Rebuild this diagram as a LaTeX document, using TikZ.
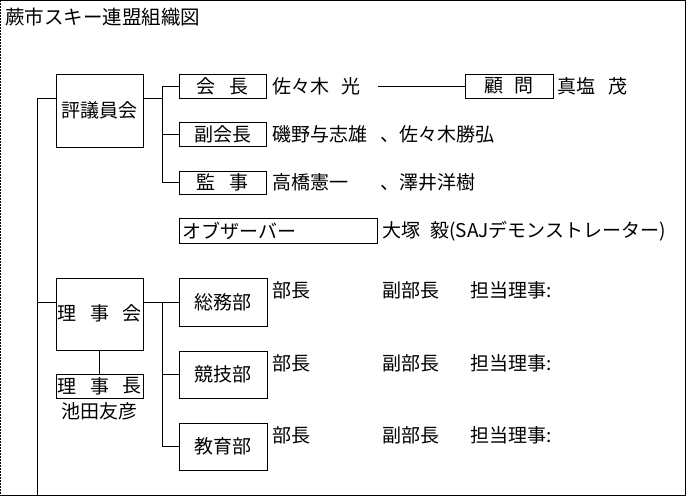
\documentclass[tikz,border=0pt]{standalone}
\usepackage{fontspec}
\setmainfont{Noto Sans CJK JP}
\begin{document}
\begin{tikzpicture}[x=1pt,y=-1pt,
  line width=0.9pt,
  txt/.style={inner sep=0pt,anchor=west,font=\fontsize{19}{21}\selectfont},
  ctr/.style={inner sep=0pt,font=\fontsize{19}{21}\selectfont},
  ln/.style={line width=0.9pt}]
\useasboundingbox (0,0) rectangle (686,496);
% frame
\draw[line width=1pt] (0,0.5) -- (685,0.5) -- (685,495) -- (0,495);
\draw[line width=1.2pt,dash pattern=on 1.5pt off 1.5pt] (0.6,0) -- (0.6,495);
% title
\node[txt,font=\fontsize{19.5}{21}\selectfont] (title) at (5,17) {蕨市スキー連盟組織図};
% main spine
\coordinate (top) at (37,98);
\coordinate (bot) at (37,495);
% boxes
\node[draw,minimum width=87pt,minimum height=73pt,inner sep=0pt] (hyo) at (99.5,110.5) {};
\node[ctr] at (hyo.center) {評議員会};
\node[draw,minimum width=87pt,minimum height=24pt,inner sep=0pt] (kaicho) at (222.5,86) {};
\node[ctr] at (kaicho.center) {会\hspace{14pt}長};
\node[draw,minimum width=87pt,minimum height=24pt,inner sep=0pt] (fuku) at (222.5,134.5) {};
\node[ctr] at (fuku.center) {副会長};
\node[draw,minimum width=87pt,minimum height=23pt,inner sep=0pt] (kanji) at (222.5,182.5) {};
\node[ctr] at (kanji.center) {監\hspace{14pt}事};
\node[draw,minimum width=88pt,minimum height=24pt,inner sep=0pt] (komon) at (509,86) {};
\node[ctr] at (komon.center) {顧\hspace{11pt}問};
\node[draw,minimum width=198pt,minimum height=25pt,inner sep=0pt] (obs) at (278,230.5) {};
\node[txt] at (182,230.5) {オブザーバー};
\node[draw,minimum width=87pt,minimum height=72pt,inner sep=0pt] (riji) at (99.5,314) {};
\node[ctr] at (67,313.5) {理};
\node[ctr] at (99.5,313.5) {事};
\node[ctr] at (132,313.5) {会};
\node[draw,minimum width=87pt,minimum height=24pt,inner sep=0pt] (rijicho) at (99.5,386) {};
\node[ctr] at (67,386) {理};
\node[ctr] at (99.5,386) {事};
\node[ctr] at (132,386) {長};
\node[ctr] (ikeda) at (99.5,411) {池田友彦};
\node[draw,minimum width=88pt,minimum height=48pt,inner sep=0pt] (somu) at (223,302) {};
\node[ctr] at (somu.center) {総務部};
\node[draw,minimum width=88pt,minimum height=47pt,inner sep=0pt] (kyogi) at (223,374.5) {};
\node[ctr] at (kyogi.center) {競技部};
\node[draw,minimum width=88pt,minimum height=47pt,inner sep=0pt] (kyoiku) at (223,446.5) {};
\node[ctr] at (kyoiku.center) {教育部};
% names
\node[txt] (sasaki) at (272,86) {佐々木\hspace{12pt}光};
\node[txt] at (557,86) {真塩\hspace{13pt}茂};
\node[txt] at (272,134.5) {磯野与志雄};
\node[txt] at (380,134.5) {、佐々木勝弘};
\node[txt] at (272,182.5) {高橋憲一};
\node[txt] at (380,182.5) {、澤井洋樹};
\node[txt] at (382,231) {大塚\hspace{10pt}毅(SAJデモンストレーター)};
\foreach \y in {290,363,435}{
  \node[txt] at (272,\y) {部長};
  \node[txt] at (382,\y) {副部長};
  \node[txt] at (470,\y) {担当理事:};
}
% connectors
\draw[ln] (top) -- (bot);
\draw[ln] (top) -- (hyo.west |- top);
\draw[ln] (37,302) -- (riji.west |- 0,302);
\draw[ln] (hyo.east |- 0,98) -- (162,98);
\draw[ln] (162,86) -- (162,182.5);
\draw[ln] (162,86) -- (kaicho.west);
\draw[ln] (162,134.5) -- (fuku.west);
\draw[ln] (162,182.5) -- (kanji.west);
\coordinate (lk) at (378,86);
\draw[ln] (lk) -- (komon.west);
\draw[ln] (riji.east |- 0,302) -- (somu.west);
\draw[ln] (162,302) -- (162,446.5);
\draw[ln] (162,374.5) -- (kyogi.west);
\draw[ln] (162,446.5) -- (kyoiku.west);
\draw[ln] (riji.south) -- (rijicho.north);
\end{tikzpicture}
\end{document}
